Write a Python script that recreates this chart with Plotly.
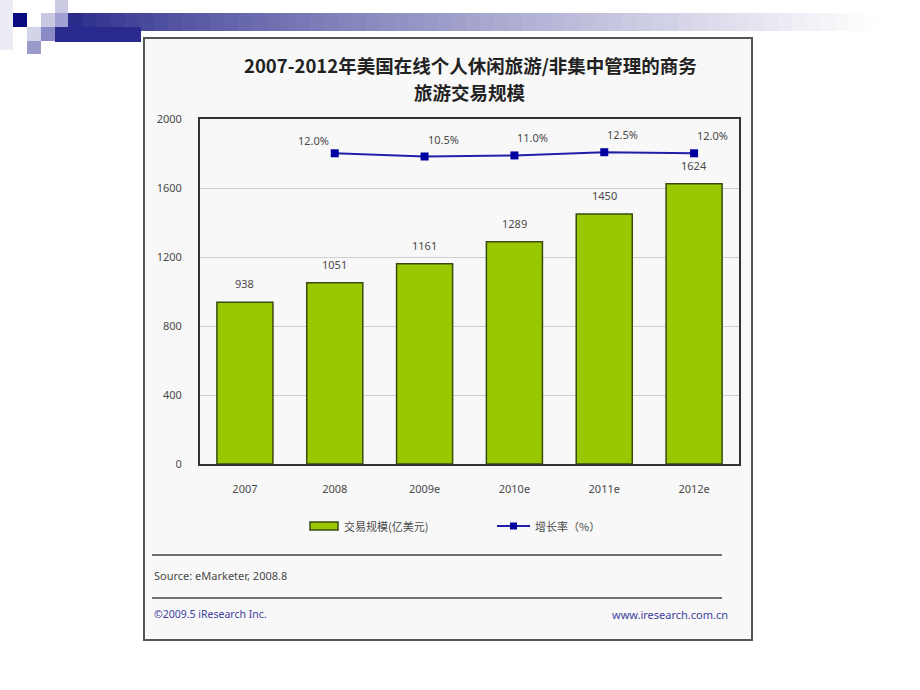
import plotly.graph_objects as go

# ---- data ----
categories = ["2007", "2008", "2009e", "2010e", "2011e", "2012e"]
volume = [938, 1051, 1161, 1289, 1450, 1624]
growth_categories = ["2008", "2009e", "2010e", "2011e", "2012e"]
growth = [12.0, 10.5, 11.0, 12.5, 12.0]
y_ticks = [0, 400, 800, 1200, 1600, 2000]
bar_name = "交易规模(亿美元)"
line_name = "增长率（%）"
title_lines = ["2007-2012年美国在线个人休闲旅游/非集中管理的商务", "旅游交易规模"]
source_text = "Source: eMarketer, 2008.8"
footer_left = "©2009.5 iResearch Inc."
footer_right = "www.iresearch.com.cn"

W, H = 920, 690
PL, PR, PT, PB = 200, 739, 119, 464  # plot area pixels

def px(x):
    return (x - PL) / (PR - PL)

def py(y):
    return (PB - y) / (PB - PT)

FONT = "Noto Sans, DejaVu Sans, sans-serif"
CJK = "Noto Sans CJK SC"
GREEN = "#99c800"
BLUE = "#1f1fa8"
TXT = "#4a4a4a"

xi = list(range(len(categories)))
gxi = [categories.index(c) for c in growth_categories]

fig = go.Figure()
fig.add_trace(go.Bar(
    x=xi, y=volume, name=bar_name,
    marker=dict(color=GREEN, line=dict(color="#3a4a10", width=1.5)),
    showlegend=False,
))
fig.add_trace(go.Scatter(
    x=gxi, y=growth, name=line_name, yaxis="y2",
    mode="lines+markers",
    line=dict(color=BLUE, width=2),
    marker=dict(symbol="square", size=8, color="#0000a0"),
    showlegend=False,
))

annotations = []
for c, v in zip(xi, volume):
    annotations.append(dict(
        x=c, y=v, xref="x", yref="y", text=str(v), showarrow=False,
        xanchor="center", yanchor="bottom", yshift=9,
        font=dict(family=FONT, size=11, color=TXT),
    ))
for i, (c, g) in enumerate(zip(gxi, growth)):
    annotations.append(dict(
        x=c, y=g, xref="x", yref="y2", text=f"{g:.1f}%",
        showarrow=False, xanchor="right" if i == 0 else "left",
        yanchor="bottom", xshift=-4 if i == 0 else 1, yshift=3 if i == 0 else 8,
        font=dict(family=FONT, size=11, color=TXT),
    ))

# title
annotations.append(dict(x=px(470), y=py(65), xref="paper", yref="paper",
                        text=title_lines[0], showarrow=False, xanchor="center", yanchor="middle",
                        font=dict(family=CJK, size=18.5, color="#222", weight="bold")))
annotations.append(dict(x=px(470), y=py(92), xref="paper", yref="paper",
                        text=title_lines[1], showarrow=False, xanchor="center", yanchor="middle",
                        font=dict(family=CJK, size=18.5, color="#222", weight="bold")))

# legend (manual)
annotations.append(dict(x=px(342), y=py(526), xref="paper", yref="paper", text=bar_name,
                        showarrow=False, xanchor="left", yanchor="middle",
                        font=dict(family=CJK, size=11, color=TXT)))
annotations.append(dict(x=px(533), y=py(526), xref="paper", yref="paper", text=line_name,
                        showarrow=False, xanchor="left", yanchor="middle",
                        font=dict(family=CJK, size=11, color=TXT)))

# source / footer
annotations.append(dict(x=px(152), y=py(575), xref="paper", yref="paper", text=source_text,
                        showarrow=False, xanchor="left", yanchor="middle",
                        font=dict(family=FONT, size=11, color=TXT)))
annotations.append(dict(x=px(152), y=py(614), xref="paper", yref="paper", text=footer_left,
                        showarrow=False, xanchor="left", yanchor="middle",
                        font=dict(family=FONT, size=10.5, color="#4040a0")))
annotations.append(dict(x=px(730), y=py(614), xref="paper", yref="paper", text=footer_right,
                        showarrow=False, xanchor="right", yanchor="middle",
                        font=dict(family=FONT, size=11, color="#4040a0")))

shapes = []

def rect(x0, y0, x1, y1, fill, line=None, lw=0, layer="below"):
    shapes.append(dict(type="rect", xref="paper", yref="paper",
                       x0=px(x0), x1=px(x1), y0=py(y0), y1=py(y1),
                       fillcolor=fill, line=dict(color=line or fill, width=lw), layer=layer))

def hline(x0, x1, y, color, w):
    shapes.append(dict(type="line", xref="paper", yref="paper",
                       x0=px(x0), x1=px(x1), y0=py(y), y1=py(y),
                       line=dict(color=color, width=w), layer="below"))

# slide decoration: gradient band
n = 60
x_start, x_end = 68, 920
c0 = (43, 43, 140)
c1 = (255, 255, 255)
for k in range(n):
    t = k / (n - 1)
    t2 = min(1.0, t * 1.05)
    col = tuple(int(c0[j] + (c1[j] - c0[j]) * (t2 ** 0.8)) for j in range(3))
    xa = x_start + (x_end - x_start) * k / n
    xb = x_start + (x_end - x_start) * (k + 1) / n + 1
    rect(xa, 13, xb, 31, "rgb(%d,%d,%d)" % col)
# dark lower bar
rect(55, 27, 141, 42, "#2a2a8e")
# squares
rect(0, 0, 13, 50, "#ececf5")
rect(13, 13, 27, 27, "#0a0a80")
rect(27, 27, 41, 41, "#d4d4e8")
rect(27, 41, 41, 54, "#9a9acc")
rect(41, 13, 55, 27, "#c8c8e2")
rect(41, 27, 55, 41, "#8a8ac6")
rect(55, 0, 68, 13, "#cacae2")
rect(55, 13, 68, 27, "#a0a0d2")

# chart box
rect(144, 38, 752, 640, "#f8f8f8", line="#555", lw=2)
# separator lines
hline(152, 722, 555, "#444", 1.5)
hline(152, 722, 598, "#444", 1.5)
# legend symbols
rect(310, 522, 338, 530, GREEN, line="#3a4a10", lw=1.5, layer="above")
hline(497, 530, 526, BLUE, 2)
shapes.append(dict(type="rect", xref="paper", yref="paper",
                   x0=px(510), x1=px(517), y0=py(522.5), y1=py(529.5),
                   fillcolor="#0000a0", line=dict(width=0), layer="above"))

fig.update_layout(
    width=W, height=H, autosize=False,
    margin=dict(l=PL, r=W - PR, t=PT, b=H - PB, pad=0),
    paper_bgcolor="white", plot_bgcolor="rgba(0,0,0,0)",
    bargap=0.376,
    showlegend=False,
    xaxis=dict(range=[-0.5, len(categories) - 0.5], tickvals=xi, ticktext=categories,
               showline=True, linecolor="#333", linewidth=2, mirror=True, showgrid=False,
               zeroline=False,
               ticks="", tickfont=dict(family=FONT, size=11, color=TXT),
               ticklabelstandoff=14),
    yaxis=dict(range=[0, 2000], tickvals=y_ticks, showline=True, linecolor="#333",
               linewidth=2, mirror=True, showgrid=True, gridcolor="#cfcfcf", gridwidth=1,
               zeroline=False, ticks="", tickfont=dict(family=FONT, size=11, color=TXT),
               ticklabelstandoff=14),
    yaxis2=dict(overlaying="y", range=[-133, 28], visible=False),
    shapes=shapes, annotations=annotations,
)

fig.write_html("out.html", config={"displayModeBar": False},
               post_script="document.body.style.margin='0';document.body.style.overflow='hidden';")
